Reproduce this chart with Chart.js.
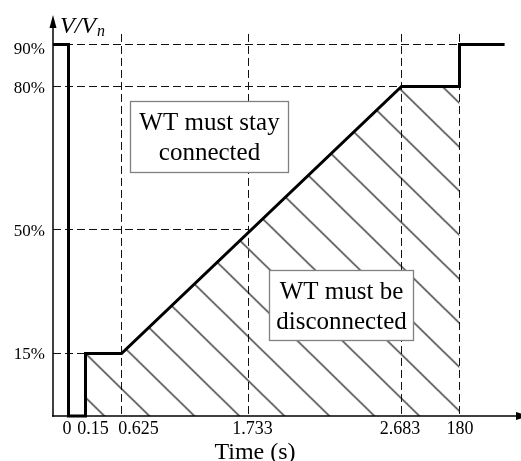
<!DOCTYPE html>
<html><head><meta charset="utf-8">
<script src="https://cdn.jsdelivr.net/npm/chart.js@4"></script>
<style>html,body{margin:0;padding:0;background:#fff}#wrap{width:521px;height:461px}canvas{display:block}</style>
</head><body><div id="wrap"><canvas id="c" width="521" height="461"></canvas></div>
<script>
// ---------- data ----------
const timeTicks = [0, 0.15, 0.625, 1.733, 2.683, 180];
const timeTickLabels = ['0', '0.15', '0.625', '1.733', '2.683', '180'];
const voltTicks = [15, 50, 80, 90];
const voltTickLabels = ['15%', '50%', '80%', '90%'];
const curveTime = [-0.1, 0, 0, 0.15, 0.15, 0.625, 2.683, 180, 180, 224];
const curveVolt = [90, 90, 0, 0, 15, 15, 80, 80, 90, 90];
const zoneTime = [0.15, 0.625, 2.683, 180];
const zoneVolt = [15, 15, 80, 80];
const hGuideVolt = [15, 50, 80, 90];
const hGuideEnd = [0.15, 1.733, 2.683, 180];
const vGuideTime = [0.625, 1.733, 2.683, 180];
const guideTop = 92.5;
const xTitle = 'Time (s)';
const yTitleMain = 'V/V';
const yTitleSub = 'n';
const boxTexts = [['WT must stay', 'connected'], ['WT must be', 'disconnected']];

// ---------- layout (schematic, non-linear axes) ----------
const X_RANGE = [-0.1, 240];
const Y_RANGE = [0, 97];
const X_BREAKS = [[-0.1, 0], [0, 0.03312], [0.15, 0.06944], [0.625, 0.14637], [1.733, 0.41774], [2.683, 0.74466], [180, 0.86859], [240, 1]];
const Y_BREAKS = [[0, 0], [15, 0.15586], [50, 0.46509], [80, 0.82170], [90, 0.92643], [97, 1]];
const X_LABEL_DX = [-1.5, 7.5, 17, 4, -1.5, 0.5];
const Y_LABEL_DY = [5, 7, 6.5, 9];
const BOXES = [{l: 130.5, t: 101.5, w: 158, h: 71, cx: 209.5, b1: 130, b2: 160},
               {l: 269.5, t: 270.5, w: 144, h: 70, cx: 341.5, b1: 298.7, b2: 328.7}];
const SERIF = '"Liberation Serif", "Times New Roman", serif';

function interp(b, v) {
  let i = 0;
  while (i < b.length - 2 && v > b[i + 1][0]) i++;
  const [v0, f0] = b[i], [v1, f1] = b[i + 1];
  return f0 + (v - v0) / (v1 - v0) * (f1 - f0);
}
function invInterp(b, f) {
  let i = 0;
  while (i < b.length - 2 && f > b[i + 1][1]) i++;
  const [v0, f0] = b[i], [v1, f1] = b[i + 1];
  return v0 + (f - f0) / (f1 - f0) * (v1 - v0);
}
class PiecewiseScale extends Chart.LinearScale {
  static id = 'piecewise';
  static defaults = {};
  _breaks() { return this.axis === 'x' ? X_BREAKS : Y_BREAKS; }
  getPixelForValue(value) {
    const f = interp(this._breaks(), value);
    return this.isHorizontal() ? this.left + f * this.width : this.bottom - f * this.height;
  }
  getValueForPixel(pixel) {
    const f = this.isHorizontal() ? (pixel - this.left) / this.width : (this.bottom - pixel) / this.height;
    return invInterp(this._breaks(), f);
  }
}
Chart.register(PiecewiseScale);

const canvas = document.getElementById('c');
const ctx0 = canvas.getContext('2d');
// hatch pattern
const PW = 45, PH = 44;
const pc = document.createElement('canvas'); pc.width = PW; pc.height = PH;
const g = pc.getContext('2d');
g.strokeStyle = '#000'; g.lineWidth = 1.2;
for (let k = -1; k <= 1; k++) { g.beginPath(); g.moveTo(k * PW - PW, -PH); g.lineTo(k * PW + 2 * PW, 2 * PH); g.stroke(); }
const hatch = ctx0.createPattern(pc, 'repeat');

const pts = (xs, ys) => xs.map((x, i) => ({x: x, y: ys[i]}));
const guideStyle = {borderColor: '#111', borderWidth: 1, borderDash: [8, 4], pointRadius: 0, fill: false, order: 2, clip: false};
const datasets = [
  {label: 'limit', data: pts(curveTime, curveVolt), borderColor: '#000', borderWidth: 3, pointRadius: 0, fill: false, order: 0, borderJoinStyle: 'miter', borderCapStyle: 'butt', clip: false},
  {label: 'disconnect zone', data: pts(zoneTime, zoneVolt), borderColor: 'rgba(0,0,0,0)', borderWidth: 0, pointRadius: 0, fill: 'origin', backgroundColor: hatch, order: 1},
  ...hGuideVolt.map((v, i) => Object.assign({data: [{x: X_RANGE[0], y: v}, {x: hGuideEnd[i], y: v}]}, guideStyle)),
  ...vGuideTime.map(t => Object.assign({data: [{x: t, y: guideTop}, {x: t, y: 0}]}, guideStyle))
];

const decor = {
  id: 'decor',
  beforeDatasetsDraw(chart) {
    const px = chart.scales.x.getPixelForValue(zoneTime[0]);
    const py = chart.scales.y.getPixelForValue(zoneVolt[0]);
    hatch.setTransform(new DOMMatrix([1, 0, 0, 1, px, py]));
  },
  afterDatasetsDraw(chart) {
    const ctx = chart.ctx, xs = chart.scales.x, ys = chart.scales.y, a = chart.chartArea;
    ctx.save();
    ctx.setLineDash([]);
    ctx.strokeStyle = '#000'; ctx.fillStyle = '#000'; ctx.lineWidth = 1.5;
    // y axis + arrow
    ctx.beginPath(); ctx.moveTo(a.left, a.bottom + 0.75); ctx.lineTo(a.left, a.top + 8); ctx.stroke();
    ctx.beginPath(); ctx.moveTo(a.left, a.top); ctx.lineTo(a.left - 3.5, a.top + 13); ctx.lineTo(a.left + 3.5, a.top + 13); ctx.closePath(); ctx.fill();
    // x axis + arrow
    ctx.beginPath(); ctx.moveTo(a.left - 0.75, a.bottom); ctx.lineTo(a.right - 2, a.bottom); ctx.stroke();
    ctx.beginPath(); ctx.moveTo(a.right + 8, a.bottom); ctx.lineTo(a.right - 5, a.bottom - 4); ctx.lineTo(a.right - 5, a.bottom + 4); ctx.closePath(); ctx.fill();
    // tick labels
    ctx.font = '17px ' + SERIF; ctx.textAlign = 'right'; ctx.textBaseline = 'alphabetic';
    voltTicks.forEach((v, i) => ctx.fillText(voltTickLabels[i], a.left - 8, ys.getPixelForValue(v) + Y_LABEL_DY[i]));
    ctx.font = '18px ' + SERIF; ctx.textAlign = 'center';
    timeTicks.forEach((t, i) => ctx.fillText(timeTickLabels[i], xs.getPixelForValue(t) + X_LABEL_DX[i], a.bottom + 17.5));
    // axis titles
    ctx.font = '24px ' + SERIF;
    ctx.fillText(xTitle, 255, 458.5);
    ctx.textAlign = 'left';
    ctx.font = 'italic 24px ' + SERIF;
    ctx.fillText(yTitleMain, 60, 32.5);
    const w = ctx.measureText(yTitleMain).width;
    ctx.font = 'italic 16px ' + SERIF;
    ctx.fillText(yTitleSub, 60 + w + 1, 36);
    // text boxes
    BOXES.forEach((b, i) => {
      ctx.fillStyle = '#fff'; ctx.fillRect(b.l, b.t, b.w, b.h);
      ctx.strokeStyle = '#808080'; ctx.lineWidth = 1.3; ctx.strokeRect(b.l, b.t, b.w, b.h);
      ctx.fillStyle = '#000'; ctx.font = '25px ' + SERIF; ctx.textAlign = 'center';
      ctx.fillText(boxTexts[i][0], b.cx, b.b1);
      ctx.fillText(boxTexts[i][1], b.cx, b.b2);
    });
    ctx.restore();
  }
};

new Chart(canvas, {
  type: 'line',
  data: {datasets: datasets},
  options: {
    responsive: false, animation: false, devicePixelRatio: 1,
    layout: {padding: {left: 53, right: 0, top: 15, bottom: 45}},
    plugins: {legend: {display: false}, tooltip: {enabled: false}},
    elements: {line: {tension: 0}, point: {radius: 0}},
    scales: {
      x: {type: 'piecewise', display: false, min: X_RANGE[0], max: X_RANGE[1]},
      y: {type: 'piecewise', display: false, min: Y_RANGE[0], max: Y_RANGE[1]}
    }
  },
  plugins: [decor]
});
</script>
</body></html>
